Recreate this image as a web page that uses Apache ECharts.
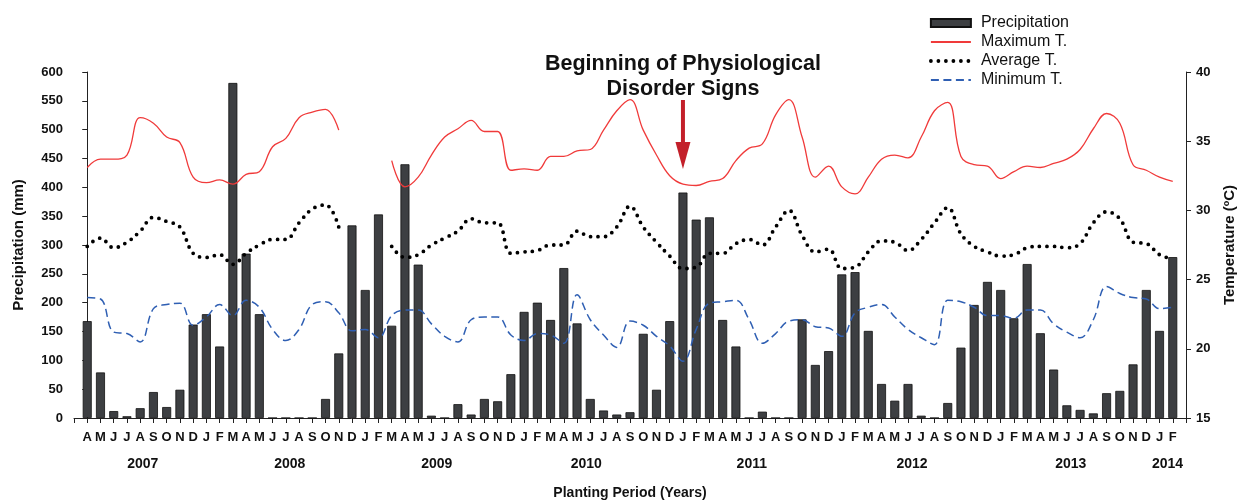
<!DOCTYPE html>
<html>
<head>
<meta charset="utf-8">
<script src="https://cdn.jsdelivr.net/npm/echarts@6/dist/echarts.min.js"></script>
<style>
  html, body { margin: 0; padding: 0; background: #fff; }
  #main { width: 1240px; height: 502px; }
</style>
</head>
<body>
<div id="main"></div>
<script>
// month tick labels, Apr 2007 .. Feb 2014
const months = ['A','M','J','J','A','S','O','N','D',
  'J','F','M','A','M','J','J','A','S','O','N','D',
  'J','F','M','A','M','J','J','A','S','O','N','D',
  'J','F','M','A','M','J','J','A','S','O','N','D',
  'J','F','M','A','M','J','J','A','S','O','N','D',
  'J','F','M','A','M','J','J','A','S','O','N','D',
  'J','F','M','A','M','J','J','A','S','O','N','D',
  'J','F'];

// precipitation (mm)
const precip = [168, 79, 12, 3, 17, 45, 19, 49, 162,
  180, 124, 581, 285, 180, 0, 0, 0, 0, 33, 112, 334,
  222, 353, 160, 440, 266, 4, 0, 24, 6, 33, 29, 76,
  184, 200, 170, 260, 164, 33, 13, 6, 10, 146, 49, 168,
  391, 344, 348, 170, 124, 0, 11, 0, 0, 171, 92, 116,
  249, 253, 151, 59, 30, 59, 4, 0, 26, 122, 196, 236,
  222, 173, 267, 147, 84, 22, 14, 8, 43, 47, 93, 222,
  151, 279];

// temperatures (°C)
const maxT = [33.1, 33.7, 33.7, 34.0, 36.7, 36.3, 35.3, 34.9, 32.4,
  32.0, 32.2, 31.9, 32.6, 32.8, 34.6, 35.2, 36.7, 37.1, 37.3, 35.8, null,
  null, null, 33.6, 31.7, 32.4, 34.0, 35.3, 35.9, 36.5, 35.7, 35.7, 32.9,
  33.0, 32.9, 33.9, 33.9, 34.3, 34.4, 35.8, 37.2, 38.0, 35.8, 34.0, 32.5,
  31.9, 31.8, 32.1, 32.3, 33.6, 34.5, 34.8, 36.9, 38.0, 35.3, 32.4, 33.2,
  31.7, 31.2, 32.4, 33.7, 34.0, 33.8, 35.3, 37.2, 37.8, 33.9, 33.3, 33.2,
  32.3, 32.8, 33.2, 33.1, 33.4, 33.7, 34.4, 35.9, 37.0, 36.3, 33.3, 32.9,
  32.4, 32.1];

const avgT = [27.4, 28.0, 27.3, 27.7, 28.5, 29.5, 29.2, 28.8, 26.9,
  26.6, 26.8, 26.1, 26.9, 27.5, 27.9, 27.9, 29.1, 30.1, 30.4, 28.8, null,
  null, null, 27.4, 26.6, 26.8, 27.5, 28.0, 28.5, 29.4, 29.1, 29.1, 26.9,
  27.0, 27.1, 27.5, 27.5, 28.5, 28.1, 28.1, 28.8, 30.3, 28.8, 27.7, 26.7,
  25.8, 25.9, 26.9, 26.9, 27.6, 27.9, 27.5, 28.8, 30.0, 28.2, 27.0, 27.2,
  25.8, 25.9, 27.0, 27.8, 27.7, 27.1, 27.9, 29.1, 30.2, 28.3, 27.4, 27.0,
  26.7, 26.8, 27.3, 27.4, 27.4, 27.3, 27.6, 29.1, 29.9, 29.4, 27.7, 27.6,
  26.8, 26.5];

const minT = [23.7, 23.6, 21.2, 21.1, 20.5, 22.9, 23.2, 23.3, 21.7,
  22.3, 23.2, 22.4, 23.5, 23.0, 21.4, 20.6, 21.4, 23.2, 23.4, 22.6, 21.3,
  21.4, 20.8, 22.4, 22.8, 22.8, 21.8, 20.9, 20.5, 22.1, 22.3, 22.3, 21.0,
  20.6, 21.1, 21.0, 20.4, 23.9, 22.1, 21.0, 20.1, 22.0, 21.7, 20.9, 20.2,
  19.1, 21.4, 23.3, 23.4, 23.5, 22.1, 20.4, 21.1, 22.0, 22.1, 21.6, 21.5,
  20.9, 22.6, 23.0, 23.2, 22.3, 21.4, 20.8, 20.3, 23.5, 23.4, 23.0, 22.4,
  22.4, 22.2, 22.8, 22.8, 21.8, 21.2, 20.8, 22.1, 24.5, 24.0, 23.7, 23.6,
  22.9, 23.0];

// year labels and where they sit along the month index
const years = ['2007', '2008', '2009', '2010', '2011', '2012', '2013', '2014'];
const yearPos = [4.2, 15.3, 26.4, 37.7, 50.2, 62.3, 74.3, 81.6];

const arrowMonth = 45; // Jan 2011

const font = 'Liberation Sans, Arial, sans-serif';
const chart = echarts.init(document.getElementById('main'));

const pairs = arr => arr.map((v, i) => [i, v]);
const noSymbol = { opacity: 0 };
const dots = { color: '#000', width: 3.8, type: [0, 7.5], cap: 'round' };

chart.setOption({
  animation: false,
  textStyle: { fontFamily: font },
  grid: { left: 74, right: 54, top: 72, bottom: 84, outerBoundsMode: 'none', containLabel: false },
  legend: {
    orient: 'vertical',
    left: 924, top: 10,
    itemWidth: 40, itemHeight: 8, itemGap: 3,
    textStyle: { fontSize: 16, color: '#111', fontFamily: font, padding: [0, 0, 0, 5] },
    data: [
      { name: 'Precipitation', icon: 'rect' },
      { name: 'Maximum T.', itemStyle: noSymbol },
      { name: 'Average T.', itemStyle: noSymbol, lineStyle: dots },
      { name: 'Minimum T.', itemStyle: noSymbol }
    ]
  },
  xAxis: {
    type: 'value',
    min: -1, max: 83, interval: 1,
    name: 'Planting Period (Years)',
    nameLocation: 'middle', nameGap: 68,
    nameTextStyle: { fontWeight: 'bold', fontSize: 14, color: '#111' },
    axisLine: { lineStyle: { color: '#222' } },
    axisTick: { length: 5, lineStyle: { color: '#222' } },
    axisLabel: {
      fontWeight: 'bold', fontSize: 13, color: '#111', margin: 13,
      formatter: v => months[v] || ''
    },
    splitLine: { show: false }
  },
  yAxis: [{
    type: 'value', min: 0, max: 600, interval: 50,
    name: 'Precipitation (mm)',
    nameLocation: 'middle', nameGap: 48, nameRotate: 90,
    nameTextStyle: { fontWeight: 'bold', fontSize: 15, color: '#111' },
    axisLine: { show: true, lineStyle: { color: '#222' } },
    axisTick: { show: true, length: 5, lineStyle: { color: '#222' } },
    axisLabel: { fontWeight: 'bold', fontSize: 13, color: '#111', margin: 11 },
    splitLine: { show: false }
  }, {
    type: 'value', min: 15, max: 40, interval: 5,
    name: 'Temperature (ºC)',
    nameLocation: 'middle', nameGap: 36, nameRotate: 90,
    nameTextStyle: { fontWeight: 'bold', fontSize: 15, color: '#111' },
    axisLine: { show: true, lineStyle: { color: '#222' } },
    axisTick: { show: true, length: 5, lineStyle: { color: '#222' } },
    axisLabel: { fontWeight: 'bold', fontSize: 13, color: '#111', margin: 10 },
    splitLine: { show: false }
  }],
  series: [{
    name: 'Precipitation',
    type: 'bar',
    barWidth: 9,
    itemStyle: { color: '#3d3f42', borderColor: '#111', borderWidth: 0.8 },
    data: pairs(precip)
  }, {
    name: 'Maximum T.',
    type: 'line', yAxisIndex: 1,
    smooth: 0.4, symbol: 'none', connectNulls: false,
    lineStyle: { color: '#f03a3a', width: 1.3 },
    itemStyle: { color: '#f03a3a' },
    data: pairs(maxT)
  }, {
    name: 'Average T.',
    type: 'line', yAxisIndex: 1,
    smooth: 0.4, symbol: 'none', connectNulls: false,
    lineStyle: dots,
    itemStyle: { color: '#000' },
    data: pairs(avgT)
  }, {
    name: 'Minimum T.',
    type: 'line', yAxisIndex: 1,
    smooth: 0.4, symbol: 'none',
    lineStyle: { color: '#2f5fb3', width: 1.5, type: [8, 4.5] },
    itemStyle: { color: '#2f5fb3' },
    data: pairs(minT)
  }]
});

// year labels under month letters, and the annotation arrow
const gx = v => chart.convertToPixel({ xAxisIndex: 0 }, v);
const yearTexts = years.map((y, i) => ({
  type: 'text',
  x: gx(yearPos[i]), y: 464,
  style: {
    text: y, fill: '#111', font: 'bold 14px ' + font,
    textAlign: 'center', textVerticalAlign: 'middle'
  }
}));
const ax = gx(arrowMonth);
chart.setOption({
  graphic: yearTexts.concat([{
    type: 'text',
    x: ax, y: 77,
    style: {
      text: 'Beginning of Physiological\nDisorder Signs',
      fill: '#111', font: 'bold 21.5px ' + font, lineHeight: 25,
      textAlign: 'center', textVerticalAlign: 'middle'
    }
  }, {
    type: 'rect',
    shape: { x: ax - 2, y: 100, width: 4, height: 46 },
    style: { fill: '#c3202a' }
  }, {
    type: 'polygon',
    shape: { points: [[ax - 7.5, 142], [ax + 7.5, 142], [ax, 169]] },
    style: { fill: '#c3202a' }
  }])
});
</script>
</body>
</html>
